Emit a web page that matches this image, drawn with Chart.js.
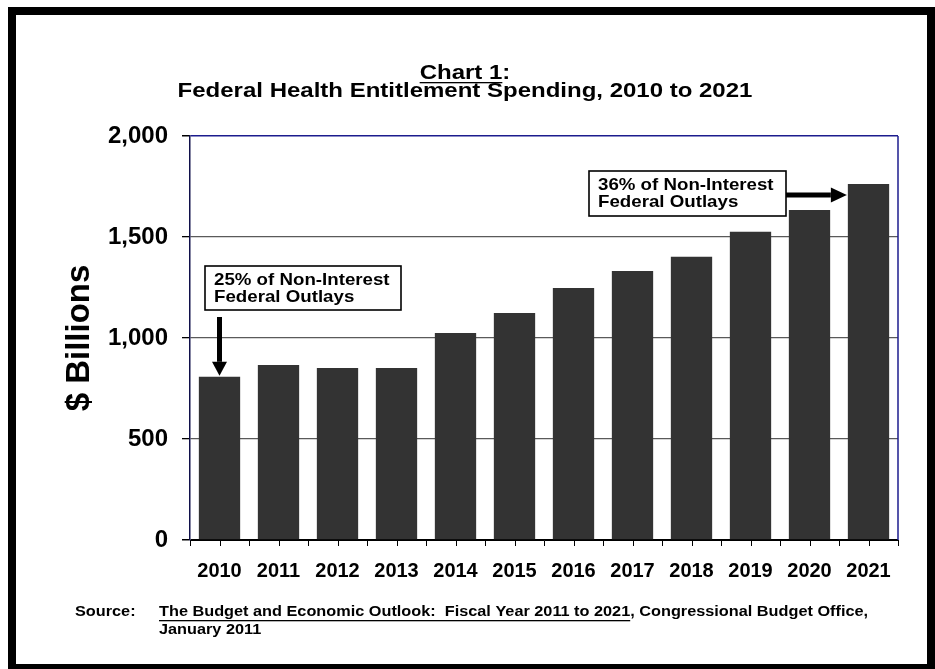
<!DOCTYPE html>
<html>
<head>
<meta charset="utf-8">
<script src="https://cdn.jsdelivr.net/npm/chart.js@4.4.1/dist/chart.umd.min.js"></script>
<style>
  html, body { margin: 0; padding: 0; background: #fff; }
  canvas { display: block; }
</style>
</head>
<body>
<canvas id="chart" width="935" height="669"></canvas>
<script>
// data
const years = ['2010', '2011', '2012', '2013', '2014', '2015', '2016', '2017', '2018', '2019', '2020', '2021'];
const spending = [808, 866, 851, 851, 1025, 1124, 1248, 1332, 1402, 1526, 1634, 1762];
const yTicks = [0, 500, 1000, 1500, 2000];

const titleMain = 'Chart 1';
const titleSub = 'Federal Health Entitlement Spending, 2010 to 2021';
const yTitle = '$ Billions';
const noteFirst = ['25% of Non-Interest', 'Federal Outlays'];
const noteLast = ['36% of Non-Interest', 'Federal Outlays'];
const sourceLabel = 'Source:';
const sourceTitle = 'The Budget and Economic Outlook:  Fiscal Year 2011 to 2021';
const sourceRest = ', Congressional Budget Office,';
const sourceLine2 = 'January 2011';

const FONT = 'Arial, "Liberation Sans", sans-serif';
const NAVY = '#1c1c8e';

function bold(size) { return 'bold ' + size + 'px ' + FONT; }

// the original type is a bit wider than Arial, so allow a horizontal stretch
function text(ctx, s, x, y, size, align, sx) {
    sx = sx || 1;
    ctx.save();
    ctx.font = bold(size);
    ctx.fillStyle = '#000';
    ctx.textAlign = align || 'left';
    ctx.textBaseline = 'middle';
    ctx.translate(x, y);
    ctx.scale(sx, 1);
    ctx.fillText(s, 0, 0);
    ctx.restore();
}

function width(ctx, s, size, sx) {
    ctx.font = bold(size);
    return ctx.measureText(s).width * (sx || 1);
}

function underline(ctx, x, y, w) {
    ctx.fillStyle = '#000';
    ctx.fillRect(x, y, w, 1.3);
}

function noteBox(ctx, lines, box) {
    ctx.strokeStyle = '#000';
    ctx.lineWidth = 1.6;
    ctx.strokeRect(box.x, box.y, box.w, box.h);
    lines.forEach((l, i) => text(ctx, l, box.x + 9, box.y + 14 + i * 17, 17, 'left', 1.1));
}

const extras = {
    id: 'extras',
    afterDraw(chart) {
        const ctx = chart.ctx;
        const area = chart.chartArea;
        const xs = chart.scales.x;
        const ys = chart.scales.y;
        ctx.save();

        // right edge of plot
        ctx.strokeStyle = NAVY;
        ctx.lineWidth = 1.5;
        ctx.beginPath();
        ctx.moveTo(area.right, area.top);
        ctx.lineTo(area.right, area.bottom);
        ctx.stroke();

        // extra tick marks under each category centre
        ctx.strokeStyle = '#000';
        ctx.lineWidth = 1;
        years.forEach((y, i) => {
            const px = Math.round(xs.getPixelForValue(i)) + 0.5;
            ctx.beginPath();
            ctx.moveTo(px, area.bottom);
            ctx.lineTo(px, area.bottom + 6);
            ctx.stroke();
        });

        // title
        const tsx = 1.2;
        const wFull = width(ctx, titleMain + ':', 20, tsx);
        const wMain = width(ctx, titleMain, 20, tsx);
        const cx = 465;
        text(ctx, titleMain + ':', cx - wFull / 2, 73, 20, 'left', tsx);
        underline(ctx, cx - wFull / 2, 82, wMain);
        text(ctx, titleSub, cx, 91, 20, 'center', tsx);

        // annotation boxes and arrows
        const meta = chart.getDatasetMeta(0).data;
        const b0 = meta[0];
        const bN = meta[meta.length - 1];

        const box1 = { x: 205, y: 266, w: 196, h: 44 };
        noteBox(ctx, noteFirst, box1);
        const tipX = b0.x;
        const tipY = ys.getPixelForValue(spending[0]) - 1;
        ctx.fillStyle = '#000';
        ctx.fillRect(tipX - 2.5, box1.y + box1.h + 7, 5, tipY - 14 - (box1.y + box1.h + 7));
        ctx.beginPath();
        ctx.moveTo(tipX - 7.5, tipY - 14);
        ctx.lineTo(tipX + 7.5, tipY - 14);
        ctx.lineTo(tipX, tipY);
        ctx.closePath();
        ctx.fill();

        const box2 = { x: 589, y: 171, w: 197, h: 45 };
        noteBox(ctx, noteLast, box2);
        const tip2X = bN.x - bN.width / 2 - 1;
        const tip2Y = 195;
        ctx.fillStyle = '#000';
        ctx.fillRect(box2.x + box2.w, tip2Y - 2.5, tip2X - 16 - (box2.x + box2.w), 5);
        ctx.beginPath();
        ctx.moveTo(tip2X - 16, tip2Y - 7.5);
        ctx.lineTo(tip2X - 16, tip2Y + 7.5);
        ctx.lineTo(tip2X, tip2Y);
        ctx.closePath();
        ctx.fill();

        // source note
        const ssx = 1.085;
        text(ctx, sourceLabel, 75, 612, 15, 'left', ssx);
        const wSrc = width(ctx, sourceTitle, 15, ssx);
        text(ctx, sourceTitle, 159, 612, 15, 'left', ssx);
        underline(ctx, 159, 620, wSrc);
        text(ctx, sourceRest, 159 + wSrc, 612, 15, 'left', ssx);
        text(ctx, sourceLine2, 159, 630, 15, 'left', ssx);

        // outer frame
        ctx.fillStyle = '#000';
        ctx.fillRect(8, 7, 927, 8);
        ctx.fillRect(8, 7, 8, 662);
        ctx.fillRect(927, 7, 8, 662);
        ctx.fillRect(8, 664, 927, 5);

        ctx.restore();
    }
};

new Chart(document.getElementById('chart'), {
    type: 'bar',
    data: {
        labels: years,
        datasets: [{
            label: 'Federal health entitlement spending',
            data: spending,
            backgroundColor: '#333333',
            borderWidth: 0,
            barPercentage: 0.7,
            categoryPercentage: 1.0
        }]
    },
    plugins: [extras],
    options: {
        responsive: false,
        animation: false,
        layout: { padding: { left: 16, right: 37, top: 136, bottom: 79 } },
        plugins: {
            legend: { display: false },
            tooltip: { enabled: false }
        },
        scales: {
            x: {
                afterFit: s => { s.height = 50; },
                grid: {
                    offset: true,
                    drawOnChartArea: false,
                    tickLength: 6,
                    tickColor: '#000'
                },
                border: { color: '#000', width: 1 },
                ticks: {
                    color: '#000',
                    padding: 13,
                    font: { family: FONT, size: 20, weight: 'bold' }
                }
            },
            y: {
                min: 0,
                max: 2000,
                afterFit: s => { s.width = 174; },
                afterBuildTicks: s => { s.ticks = yTicks.map(v => ({ value: v })); },
                grid: {
                    color: c => c.tick.value === 0 ? '#000' : (c.tick.value === 2000 ? NAVY : '#5a5a5a'),
                    lineWidth: c => c.tick.value === 0 || c.tick.value === 2000 ? 1.5 : 1.3,
                    tickLength: 8,
                    tickColor: '#000'
                },
                border: { color: '#10104a', width: 1.5 },
                ticks: {
                    color: '#000',
                    padding: 14,
                    font: { family: FONT, size: 24, weight: 'bold' },
                    callback: v => v.toLocaleString('en-US')
                },
                title: {
                    display: true,
                    text: yTitle,
                    color: '#000',
                    padding: { top: 44, bottom: 0 },
                    font: { family: FONT, size: 33, weight: 'bold' }
                }
            }
        }
    }
});
</script>
</body>
</html>
